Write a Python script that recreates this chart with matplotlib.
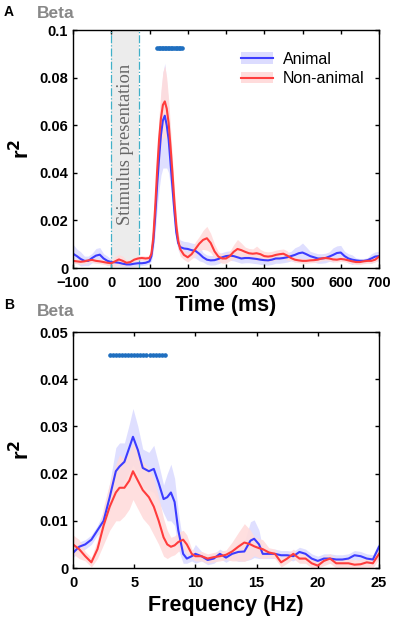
import numpy as np
import matplotlib
matplotlib.use("Agg")
import matplotlib.pyplot as plt
from matplotlib.patches import Patch
from matplotlib.lines import Line2D

plt.rcParams['font.family'] = ['Liberation Sans', 'DejaVu Sans']

# panel A: time course
t = [-100, -90, -80, -70, -60, -50, -40, -30, -20, -10, 0, 10, 20, 30, 40, 50, 60, 70, 80, 90,
     100, 105, 110, 115, 120, 125, 130, 135, 140, 145, 150, 155, 160, 165, 170, 175, 180, 190,
     200, 210, 220, 230, 240, 250, 260, 270, 280, 290, 300, 310, 320, 330, 340, 350, 360, 370,
     380, 390, 400, 410, 420, 430, 440, 450, 460, 470, 480, 490, 500, 510, 520, 530, 540, 550,
     560, 570, 580, 590, 600, 610, 620, 630, 640, 650, 660, 670, 680, 690, 700]
animal_t = [0.0060, 0.0050, 0.0038, 0.0030, 0.0030, 0.0042, 0.0052, 0.0056, 0.0040, 0.0030,
            0.0025, 0.0024, 0.0022, 0.0018, 0.0015, 0.0015, 0.0018, 0.0020, 0.0020, 0.0022,
            0.0028, 0.0050, 0.0110, 0.0220, 0.0350, 0.0460, 0.0560, 0.0620, 0.0640, 0.0600,
            0.0540, 0.0440, 0.0340, 0.0240, 0.0150, 0.0105, 0.0088, 0.0082, 0.0080, 0.0075,
            0.0072, 0.0060, 0.0045, 0.0035, 0.0032, 0.0033, 0.0038, 0.0045, 0.0050, 0.0052,
            0.0050, 0.0045, 0.0040, 0.0042, 0.0042, 0.0040, 0.0038, 0.0035, 0.0033, 0.0032,
            0.0035, 0.0040, 0.0040, 0.0042, 0.0045, 0.0050, 0.0055, 0.0062, 0.0065, 0.0058,
            0.0050, 0.0045, 0.0040, 0.0040, 0.0042, 0.0048, 0.0055, 0.0063, 0.0065, 0.0050,
            0.0040, 0.0035, 0.0032, 0.0030, 0.0030, 0.0033, 0.0040, 0.0048, 0.0050]
nonanimal_t = [0.0030, 0.0028, 0.0026, 0.0028, 0.0032, 0.0034, 0.0030, 0.0028, 0.0025, 0.0022,
               0.0020, 0.0028, 0.0036, 0.0030, 0.0022, 0.0025, 0.0035, 0.0040, 0.0042, 0.0040,
               0.0042, 0.0060, 0.0130, 0.0260, 0.0410, 0.0540, 0.0630, 0.0685, 0.0700, 0.0670,
               0.0610, 0.0510, 0.0400, 0.0280, 0.0180, 0.0115, 0.0080, 0.0055, 0.0045, 0.0058,
               0.0080, 0.0102, 0.0118, 0.0125, 0.0105, 0.0070, 0.0048, 0.0040, 0.0040, 0.0050,
               0.0068, 0.0080, 0.0075, 0.0068, 0.0062, 0.0060, 0.0062, 0.0058, 0.0050, 0.0048,
               0.0050, 0.0055, 0.0058, 0.0060, 0.0052, 0.0042, 0.0035, 0.0032, 0.0030, 0.0030,
               0.0032, 0.0033, 0.0035, 0.0040, 0.0042, 0.0040, 0.0036, 0.0035, 0.0038, 0.0036,
               0.0032, 0.0028, 0.0025, 0.0025, 0.0028, 0.0030, 0.0030, 0.0035, 0.0048]
# half-width of shaded error bands
animal_t_err = [0.004, 0.003, 0.003, 0.002, 0.002, 0.002, 0.003, 0.003, 0.002, 0.002,
                0.001, 0.001, 0.001, 0.001, 0.001, 0.001, 0.001, 0.001, 0.001, 0.001,
                0.001, 0.002, 0.004, 0.007, 0.010, 0.013, 0.017, 0.020, 0.022, 0.018,
                0.014, 0.010, 0.008, 0.006, 0.004, 0.003, 0.003, 0.003, 0.003, 0.003,
                0.003, 0.003, 0.002, 0.002, 0.002, 0.002, 0.002, 0.002, 0.002, 0.002,
                0.002, 0.002, 0.002, 0.002, 0.002, 0.002, 0.002, 0.002, 0.002, 0.002,
                0.002, 0.002, 0.002, 0.002, 0.002, 0.002, 0.003, 0.003, 0.004, 0.003,
                0.002, 0.002, 0.002, 0.002, 0.002, 0.002, 0.003, 0.003, 0.003, 0.002,
                0.002, 0.002, 0.001, 0.001, 0.001, 0.001, 0.002, 0.002, 0.002]
nonanimal_t_err = [0.001, 0.001, 0.001, 0.001, 0.001, 0.001, 0.001, 0.001, 0.001, 0.001,
                   0.001, 0.002, 0.002, 0.002, 0.001, 0.001, 0.001, 0.001, 0.001, 0.001,
                   0.001, 0.002, 0.004, 0.006, 0.008, 0.010, 0.012, 0.014, 0.015, 0.013,
                   0.010, 0.008, 0.006, 0.005, 0.004, 0.003, 0.003, 0.002, 0.002, 0.002,
                   0.003, 0.003, 0.004, 0.005, 0.004, 0.003, 0.002, 0.002, 0.002, 0.002,
                   0.003, 0.004, 0.003, 0.002, 0.002, 0.002, 0.003, 0.002, 0.002, 0.002,
                   0.002, 0.002, 0.002, 0.002, 0.002, 0.001, 0.001, 0.001, 0.001, 0.001,
                   0.001, 0.001, 0.001, 0.001, 0.001, 0.001, 0.001, 0.001, 0.001, 0.001,
                   0.001, 0.001, 0.001, 0.001, 0.001, 0.001, 0.001, 0.001, 0.001]
sig_t = [120, 124, 128, 132, 136, 140, 144, 148, 152, 156, 160, 164, 168, 172, 176, 180, 184]
sig_t_y = 0.0925
stim_on, stim_off = 0, 72

# panel B: frequency
f = [0, 0.5, 1, 1.5, 2, 2.5, 3, 3.5, 3.8, 4.2, 4.6, 4.9, 5.3, 5.7, 6.2, 6.6, 7.0, 7.4,
     7.7, 8.0, 8.3, 8.6, 9.0, 9.3, 9.7, 10, 10.5, 11, 11.5, 12, 12.5, 13, 13.5, 14, 14.5,
     14.8, 15.2, 15.5, 16, 16.5, 17, 17.5, 18, 18.5, 19, 19.5, 20, 20.5, 21, 21.5, 22,
     22.5, 23, 23.5, 24, 24.5, 25]
animal_f = [0.0032, 0.0045, 0.0050, 0.0060, 0.0080, 0.0100, 0.0150, 0.0205, 0.0215, 0.0225,
            0.0255, 0.0278, 0.0250, 0.0212, 0.0205, 0.0210, 0.0180, 0.0146, 0.0150, 0.0160,
            0.0140, 0.0080, 0.0030, 0.0020, 0.0025, 0.0030, 0.0025, 0.0017, 0.0020, 0.0030,
            0.0022, 0.0030, 0.0034, 0.0035, 0.0058, 0.0062, 0.0050, 0.0030, 0.0030, 0.0030,
            0.0027, 0.0027, 0.0025, 0.0034, 0.0030, 0.0020, 0.0015, 0.0020, 0.0020, 0.0018,
            0.0018, 0.0020, 0.0027, 0.0025, 0.0020, 0.0018, 0.0045]
nonanimal_f = [0.0050, 0.0040, 0.0025, 0.0012, 0.0040, 0.0090, 0.0130, 0.0160, 0.0170, 0.0170,
               0.0185, 0.0205, 0.0185, 0.0165, 0.0150, 0.0130, 0.0100, 0.0065, 0.0050, 0.0045,
               0.0048, 0.0055, 0.0060, 0.0050, 0.0030, 0.0025, 0.0025, 0.0020, 0.0023, 0.0025,
               0.0028, 0.0035, 0.0045, 0.0054, 0.0050, 0.0046, 0.0042, 0.0040, 0.0033, 0.0030,
               0.0012, 0.0020, 0.0030, 0.0020, 0.0020, 0.0010, 0.0005, 0.0015, 0.0020, 0.0010,
               0.0010, 0.0010, 0.0007, 0.0008, 0.0012, 0.0010, 0.0030]
animal_f_err = [0.001, 0.001, 0.001, 0.001, 0.001, 0.002, 0.003, 0.005, 0.005, 0.004,
                0.005, 0.006, 0.005, 0.004, 0.004, 0.005, 0.004, 0.003, 0.005, 0.006,
                0.005, 0.004, 0.002, 0.001, 0.001, 0.002, 0.001, 0.001, 0.001, 0.001,
                0.001, 0.001, 0.002, 0.002, 0.004, 0.004, 0.003, 0.001, 0.001, 0.001,
                0.001, 0.001, 0.001, 0.001, 0.001, 0.001, 0.001, 0.001, 0.001, 0.001,
                0.001, 0.001, 0.001, 0.001, 0.001, 0.001, 0.001]
nonanimal_f_err = [0.002, 0.002, 0.001, 0.001, 0.002, 0.004, 0.005, 0.006, 0.007, 0.006,
                   0.006, 0.006, 0.006, 0.006, 0.006, 0.006, 0.005, 0.004, 0.003, 0.002,
                   0.002, 0.002, 0.002, 0.002, 0.001, 0.001, 0.001, 0.001, 0.001, 0.001,
                   0.001, 0.002, 0.003, 0.004, 0.003, 0.002, 0.002, 0.002, 0.001, 0.001,
                   0.001, 0.001, 0.001, 0.001, 0.001, 0.001, 0.001, 0.001, 0.001, 0.001,
                   0.001, 0.001, 0.001, 0.001, 0.001, 0.001, 0.001]
sig_f = [3.0, 3.25, 3.5, 3.75, 4.0, 4.25, 4.5, 4.75, 5.0, 5.25, 5.5, 5.75, 6.0, 6.25,
         6.5, 6.75, 7.0, 7.25, 7.5]
sig_f_y = 0.0452

blue = '#3c3cff'
red = '#ff3c3c'
blue_band = '#dcdcff'
red_band = '#ffdcdc'
sig_col = '#1f6fc0'

fig = plt.figure(figsize=(3.94, 6.22), dpi=100)
axA = fig.add_axes([73/394, 1 - 268/622, 306/394, 238/622])
axB = fig.add_axes([73/394, 1 - 568/622, 306/394, 236/622])


def band(ax, x, y, e, color):
    y = np.array(y)
    e = np.array(e)
    ax.fill_between(x, np.clip(y - e, 0, None), y + e, color=color, lw=0, alpha=0.9)


def style(ax):
    ax.tick_params(direction='in', top=True, right=True, length=3, width=1, labelsize=10.5)
    ax.tick_params(axis='x', pad=6)
    for lab in ax.get_xticklabels() + ax.get_yticklabels():
        lab.set_fontweight('bold')
    for s in ax.spines.values():
        s.set_linewidth(1.0)


# panel A
axA.axvspan(stim_on, stim_off, color='#ececec', lw=0, zorder=0)
axA.axvline(stim_on, color='#40b0c8', ls='-.', lw=0.9)
axA.axvline(stim_off, color='#40b0c8', ls='-.', lw=0.9)
axA.text((stim_on + stim_off) / 2, 0.052, 'Stimulus presentation', rotation=90,
         ha='center', va='center', fontsize=13.3, color='#666666',
         family=['Liberation Serif', 'DejaVu Serif'])
band(axA, t, animal_t, animal_t_err, blue_band)
band(axA, t, nonanimal_t, nonanimal_t_err, red_band)
axA.plot(t, animal_t, color=blue, lw=1.5)
axA.plot(t, nonanimal_t, color=red, lw=1.5)
axA.plot(sig_t, [sig_t_y] * len(sig_t), ls='none', marker='o', ms=2.3, color=sig_col)
axA.set_xlim(-100, 700)
axA.set_ylim(0, 0.1)
axA.set_xticks(range(-100, 701, 100))
axA.set_yticks([0, 0.02, 0.04, 0.06, 0.08, 0.1])
axA.set_yticklabels(['0', '0.02', '0.04', '0.06', '0.08', '0.1'])
axA.set_xlabel('Time (ms)', fontsize=15.5, fontweight='bold', labelpad=3)
axA.set_ylabel('r$^\\mathbf{2}$', fontsize=16, fontweight='bold', labelpad=4)
style(axA)

handles = [(Patch(color=blue_band, lw=0), Line2D([], [], color=blue, lw=1.5)),
           (Patch(color=red_band, lw=0), Line2D([], [], color=red, lw=1.5))]
axA.legend(handles, ['Animal', 'Non-animal'], loc='upper right', frameon=False,
           fontsize=11.5, handlelength=2.0, handletextpad=0.6,
           bbox_to_anchor=(1.0, 0.97), labelspacing=0.3)

# panel B
band(axB, f, animal_f, animal_f_err, blue_band)
band(axB, f, nonanimal_f, nonanimal_f_err, red_band)
axB.plot(f, animal_f, color=blue, lw=1.5)
axB.plot(f, nonanimal_f, color=red, lw=1.5)
axB.plot(sig_f, [sig_f_y] * len(sig_f), ls='none', marker='o', ms=2.3, color=sig_col)
axB.set_xlim(0, 25)
axB.set_ylim(0, 0.05)
axB.set_xticks([0, 5, 10, 15, 20, 25])
axB.set_yticks([0, 0.01, 0.02, 0.03, 0.04, 0.05])
axB.set_yticklabels(['0', '0.01', '0.02', '0.03', '0.04', '0.05'])
axB.set_xlabel('Frequency (Hz)', fontsize=15.5, fontweight='bold', labelpad=3)
axB.set_ylabel('r$^\\mathbf{2}$', fontsize=16, fontweight='bold', labelpad=4)
style(axB)

fig.text(4/394, 1 - 12/622, 'A', fontsize=10, fontweight='bold', va='center')
fig.text(37/394, 1 - 14/622, 'Beta', fontsize=12.5, fontweight='bold', color='#888888', va='center')
fig.text(4/394, 1 - 305/622, 'B', fontsize=10, fontweight='bold', va='center')
fig.text(37/394, 1 - 311/622, 'Beta', fontsize=12.5, fontweight='bold', color='#888888', va='center')

fig.savefig('out.png', dpi=100)
